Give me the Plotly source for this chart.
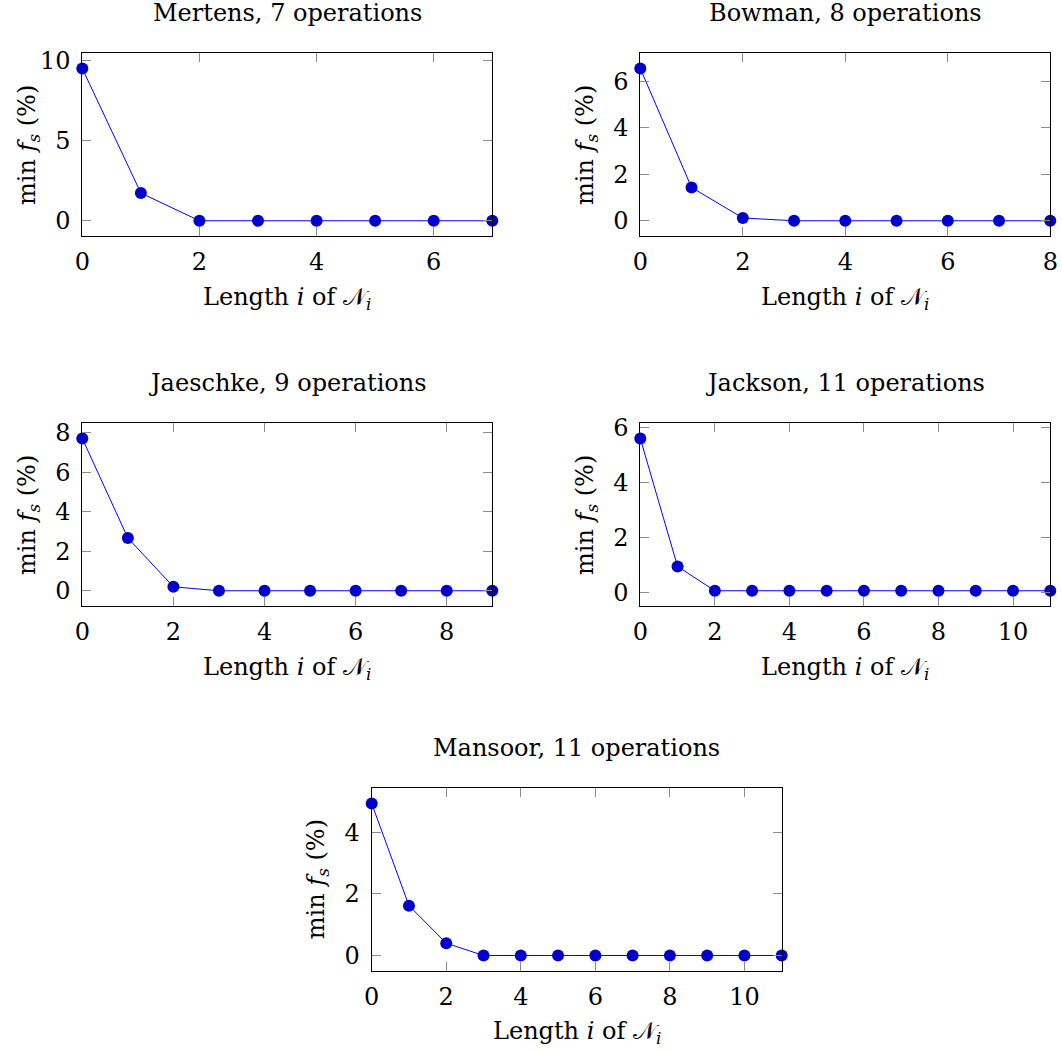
import plotly.graph_objects as go

# ---- data ----
titles = ["Mertens, 7 operations", "Bowman, 8 operations", "Jaeschke, 9 operations",
          "Jackson, 11 operations", "Mansoor, 11 operations"]
mertens = [9.5, 1.73, 0, 0, 0, 0, 0, 0]
bowman = [6.54, 1.43, 0.12, 0, 0, 0, 0, 0, 0]
jaeschke = [7.71, 2.67, 0.2, 0, 0, 0, 0, 0, 0, 0]
jackson = [5.59, 0.96, 0.08, 0.08, 0.08, 0.08, 0.08, 0.08, 0.08, 0.08, 0.08, 0.08]
mansoor = [4.94, 1.62, 0.40, 0, 0, 0, 0, 0, 0, 0, 0, 0]
series = [mertens, bowman, jaeschke, jackson, mansoor]
ydticks = [5, 2, 2, 2, 2]

W, H = 1062, 1052
# plot boxes in pixels (left, right, top, bottom)
boxes = [(82.3, 492.3, 53.3, 236.0),
         (640.3, 1050.3, 53.3, 236.0),
         (82.3, 492.3, 423.3, 606.0),
         (640.3, 1050.3, 423.3, 606.0),
         (371.7, 781.7, 788.3, 970.7)]

FONT = "DejaVu Serif"
FS = 24
fig = go.Figure()
layout = dict(width=W, height=H, margin=dict(l=0, r=0, t=0, b=0),
              paper_bgcolor="white", plot_bgcolor="white", showlegend=False,
              font=dict(family=FONT, size=FS, color="black"))
annotations = []
for k, (vals, (l, r, t, b)) in enumerate(zip(series, boxes)):
    n = k + 1
    xs = list(range(len(vals)))
    fig.add_trace(go.Scatter(x=xs, y=vals, mode="lines+markers",
                             line=dict(color="#0000ff", width=1),
                             marker=dict(color="#0000cc", size=12, line=dict(width=0)),
                             cliponaxis=False,
                             xaxis="x" if n == 1 else f"x{n}",
                             yaxis="y" if n == 1 else f"y{n}"))
    lo, hi = min(vals), max(vals)
    pad = 0.1 * (hi - lo)
    common = dict(showgrid=False, zeroline=False, showline=True, linecolor="black",
                  linewidth=1, mirror="allticks", ticks="inside", ticklen=9,
                  tickcolor="#8a8a8a", tickwidth=1, automargin=False,
                  tickfont=dict(family=FONT, size=FS, color="black"))
    xa = dict(common, domain=[l / W, r / W], range=[0, len(vals) - 1], dtick=2,
              tick0=0, anchor="y" if n == 1 else f"y{n}", ticklabelstandoff=4)
    ya = dict(common, domain=[1 - b / H, 1 - t / H], range=[lo - pad, hi + pad],
              dtick=ydticks[k], tick0=0, anchor="x" if n == 1 else f"x{n}",
              ticklabelstandoff=6)
    layout["xaxis" if n == 1 else f"xaxis{n}"] = xa
    layout["yaxis" if n == 1 else f"yaxis{n}"] = ya
    cx = (l + r) / 2 / W
    annotations.append(dict(text=titles[k], x=cx, y=1 - (t - 40) / H, xref="paper",
                            yref="paper", showarrow=False, xanchor="center",
                            yanchor="middle", font=dict(family=FONT, size=FS)))
    annotations.append(dict(text="Length <i>i</i> of 𝒩<sub><i>i</i></sub>", x=cx,
                            y=1 - (b + 62) / H, xref="paper", yref="paper",
                            showarrow=False, xanchor="center", yanchor="middle",
                            font=dict(family=FONT, size=FS)))
    annotations.append(dict(text="min <i>f</i><sub><i>s</i></sub> (%)", x=(l - 54) / W,
                            y=1 - (t + b) / 2 / H, xref="paper", yref="paper",
                            showarrow=False, xanchor="center", yanchor="middle",
                            textangle=-90, font=dict(family=FONT, size=FS)))
layout["annotations"] = annotations
fig.update_layout(**layout)
fig.write_html("out.html", post_script="document.body.style.margin='0';",
               config={"displayModeBar": False})
